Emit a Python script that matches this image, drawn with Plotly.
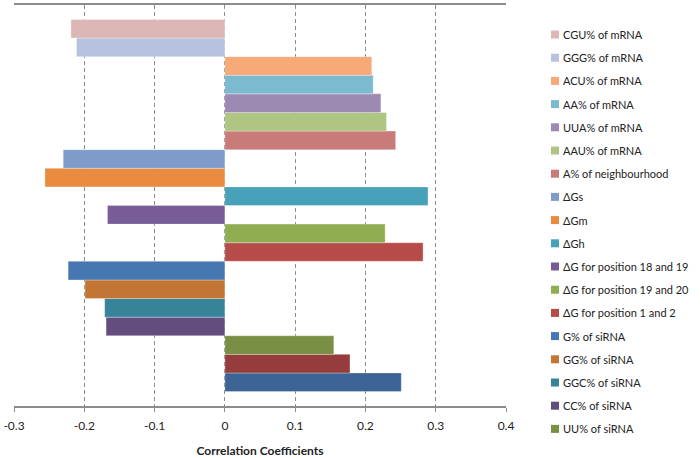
import plotly.graph_objects as go

# Series listed top-to-bottom as they appear in the chart
series_names = [
    "CGU% of mRNA", "GGG% of mRNA", "ACU% of mRNA", "AA% of mRNA", "UUA% of mRNA",
    "AAU% of mRNA", "A% of neighbourhood", "ΔGs", "ΔGm", "ΔGh",
    "ΔG for position 18 and 19", "ΔG for position 19 and 20", "ΔG for position 1 and 2",
    "G% of siRNA", "GG% of siRNA", "GGC% of siRNA", "CC% of siRNA", "UU% of siRNA",
    "Series 19", "Series 20",
]
series_values = [
    -0.219, -0.211, 0.209, 0.211, 0.222,
    0.230, 0.243, -0.230, -0.256, 0.289,
    -0.167, 0.228, 0.282,
    -0.223, -0.199, -0.171, -0.169, 0.155,
    0.178, 0.251,
]
series_colors = [
    "#DDB7B6", "#B7C3DE", "#F7A977", "#7BBACF", "#9D8AB3",
    "#AFC582", "#C97B7A", "#7F9CC9", "#E98C3F", "#46A1B9",
    "#775C98", "#91AD51", "#B64C4A",
    "#4777B1", "#C37634", "#378399", "#634D7F", "#798F43",
    "#963C3C", "#3C6494",
]
# only the first 18 series are visible in the (clipped) legend
n_legend = 18
x_ticks = [-0.3, -0.2, -0.1, 0, 0.1, 0.2, 0.3, 0.4]
x_title = "Correlation Coefficients"

FONT = "Lato, 'Open Sans', sans-serif"
W, H = 700, 458
ML, MR, MT, MB = 14, 194, 5, 52
PW, PH = W - ML - MR, H - MT - MB

fig = go.Figure()
# plotly stacks grouped horizontal bars bottom-up, so add in reverse order
for name, val, col in reversed(list(zip(series_names, series_values, series_colors))):
    fig.add_trace(go.Bar(
        y=[""], x=[val], name=name, orientation="h",
        marker=dict(color=col, line=dict(color="rgba(255,255,255,0.6)", width=0.5)),
        showlegend=False,
    ))

# legend drawn as swatches + text (Excel-style spacing)
shapes, annotations = [], []
for i in range(n_legend):
    ypix = 34.5 + 23.2 * i
    yc = (H - MB - ypix) / PH
    h = 4 / PH
    shapes.append(dict(type="rect", xref="paper", yref="paper",
                       x0=(551 - ML) / PW, x1=(559 - ML) / PW, y0=yc - h, y1=yc + h,
                       fillcolor=series_colors[i], line=dict(width=0)))
    annotations.append(dict(xref="paper", yref="paper", x=(561 - ML) / PW, y=yc,
                            xanchor="left", yanchor="middle", showarrow=False,
                            text=series_names[i], font=dict(size=11, color="#222222")))

fig.update_layout(
    width=W, height=H,
    margin=dict(l=ML, r=MR, t=MT, b=MB),
    paper_bgcolor="white", plot_bgcolor="white",
    barmode="group", bargap=0.072, bargroupgap=0,
    font=dict(family=FONT, size=12, color="#222222"),
    showlegend=False,
    shapes=shapes, annotations=annotations,
    xaxis=dict(
        range=[-0.3, 0.4], tickvals=x_ticks,
        ticktext=[f"{t:g}" for t in x_ticks],
        showgrid=True, gridcolor="#8c8c8c", griddash="4px,3px", gridwidth=1,
        zeroline=False, showline=True, linecolor="#8c8c8c", linewidth=1.5,
        mirror=True, ticks="outside", ticklen=4, tickcolor="#8c8c8c",
        ticklabelstandoff=4,
        title=dict(text="<b>" + x_title + "</b>", font=dict(size=12), standoff=18),
        tickfont=dict(size=12), automargin=False,
    ),
    yaxis=dict(showticklabels=False, showgrid=False, zeroline=False, showline=False,
               automargin=False),
)

fig.write_html("out.html", config={"displayModeBar": False},
               post_script="document.body.style.margin='0';document.body.style.overflow='hidden';")
